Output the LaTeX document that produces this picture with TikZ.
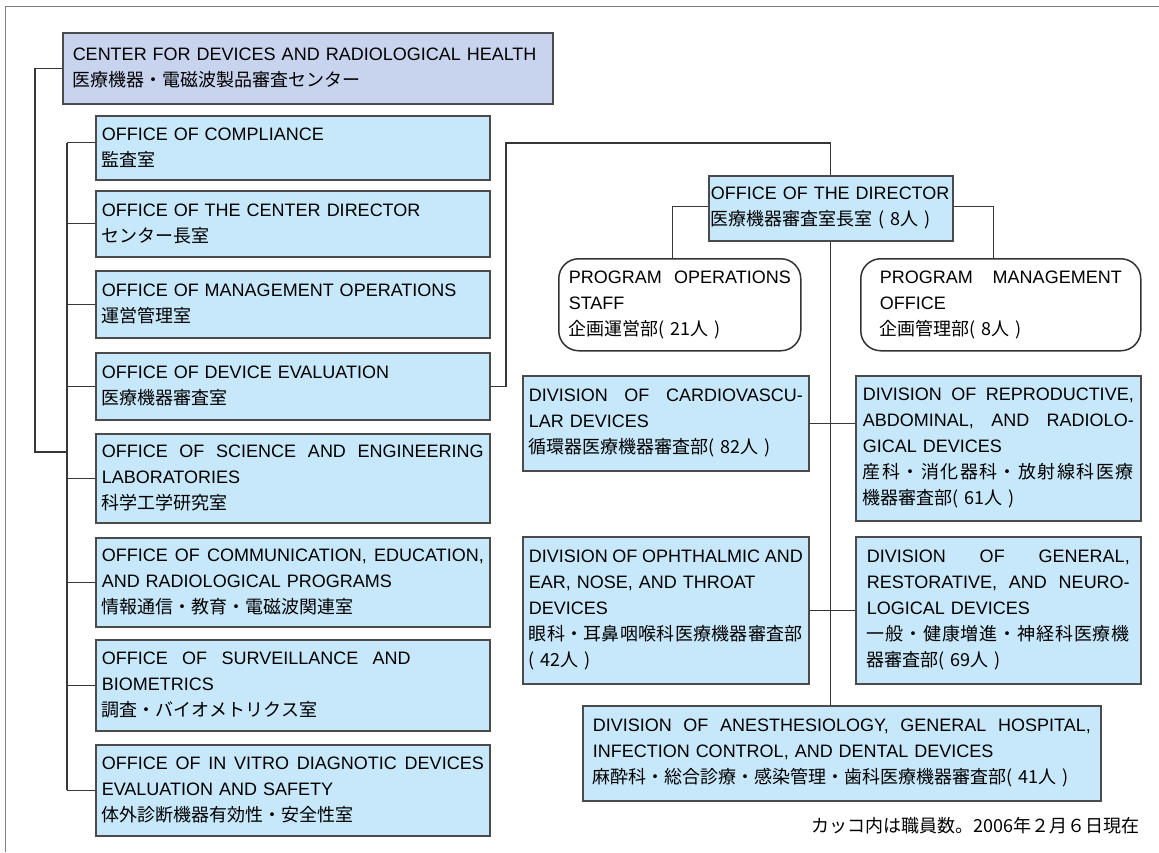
\documentclass[tikz,border=0pt]{standalone}
\usepackage{fontspec}
\setmainfont{Liberation Sans}
\newfontfamily\jp{Noto Sans CJK JP}
\definecolor{officeblue}{RGB}{198,232,250}
\definecolor{cdrhblue}{RGB}{200,212,238}
\definecolor{boxgray}{RGB}{75,75,75}
\definecolor{linegray}{RGB}{55,55,55}
% spread a line of words, or of kana and kanji, to the full width
\newcommand{\jl}[2][\hsize]{\makebox[#1][s]{\spaceskip=\fontdimen2\font plus 1fil minus .15em\relax #2}}
\def\jlsloop#1{\ifx#1\relax\else\hskip0pt plus 1fil#1\expandafter\jlsloop\fi}
\def\jlsfirst#1{#1\jlsloop}
\newcommand{\jls}[1]{\makebox[\hsize][s]{\jlsfirst#1\relax}}

\begin{document}
\begin{tikzpicture}[x=1pt,y=-1pt,
  link/.style={draw=linegray,line width=1.3pt},
  unit/.style={draw=boxgray,line width=1.5pt,fill=officeblue,anchor=north west,
    inner ysep=0pt,align=left,font=\fontsize{18}{26}\selectfont},
  office/.style={unit,text width=382pt,inner xsep=6pt},
  staff/.style={unit,fill=white,draw=black!80,rounded corners=20pt,minimum height=92pt}]

\useasboundingbox (0,0) rectangle (1159,852);
\draw[gray,line width=1pt] (1159,6) -| (5,852);

% center and its offices
\node[unit,fill=cdrhblue,text width=470pt,inner xsep=10pt,minimum height=71pt] (cdrh) at (62,32)
  {CENTER FOR DEVICES AND RADIOLOGICAL HEALTH\\ \jp 医療機器・電磁波製品審査センター};

\node[office,minimum height=64pt] (o1) at (95,115) {OFFICE OF COMPLIANCE\\ \jp 監査室};
\node[office,minimum height=66pt] (o2) at (95,190) {OFFICE OF THE CENTER DIRECTOR\\ \jp センター長室};
\node[office,minimum height=67pt] (o3) at (95,270) {OFFICE OF MANAGEMENT OPERATIONS\\ \jp 運営管理室};
\node[office,minimum height=67pt] (o4) at (95,352) {OFFICE OF DEVICE EVALUATION\\ \jp 医療機器審査室};
\node[office,minimum height=89pt] (o5) at (95,433)
  {\jl{OFFICE OF SCIENCE AND ENGINEERING}\\ LABORATORIES\\ \jp 科学工学研究室};
\node[office,minimum height=89pt] (o6) at (95,537)
  {\jl{OFFICE OF COMMUNICATION, EDUCATION,}\\ AND RADIOLOGICAL PROGRAMS\\ \jp 情報通信・教育・電磁波関連室};
\node[office,minimum height=91pt] (o7) at (95,639)
  {\jl[309pt]{OFFICE OF SURVEILLANCE AND}\\ BIOMETRICS\\ \jp 調査・バイオメトリクス室};
\node[office,minimum height=91pt] (o8) at (95,744)
  {\jl{OFFICE OF IN VITRO DIAGNOTIC DEVICES}\\ EVALUATION AND SAFETY\\ \jp 体外診断機器有効性・安全性室};

\coordinate (split) at (35,452);
\coordinate (trunk) at (67,452);
\draw[link] (cdrh.west) -| (split) -- (trunk);
\draw[link] ([yshift=5pt]o1.west -| trunk) -- (o8.west -| trunk);
\draw[link] ([yshift=5pt]o1.west -| trunk) -- ([yshift=5pt]o1.west);
\foreach \i in {2,...,8}
  \draw[link] (o\i.west -| trunk) -- (o\i.west);

% device evaluation
\node[unit,text width=240pt,inner xsep=2pt,minimum height=65pt] (dir) at (708,175)
  {OFFICE OF THE DIRECTOR\\ \jp 医療機器審査室長室 ( 8人 )};
\node[staff,text width=222pt,inner xsep=10pt] (pos) at (558,258)
  {\jl{PROGRAM OPERATIONS}\\ STAFF\\ \jp 企画運営部( 21人 )};
\node[staff,text width=242pt,inner xsep=19pt] (pmo) at (860,258)
  {\jl{PROGRAM MANAGEMENT}\\ OFFICE\\ \jp 企画管理部( 8人 )};

\node[unit,text width=274pt,inner xsep=6pt,minimum height=95pt] (cardio) at (522,375)
  {\jl{DIVISION OF CARDIOVASCU-}\\ LAR DEVICES\\ \jp 循環器医療機器審査部( 82人 )};
\node[unit,text width=271pt,inner xsep=7pt,minimum height=145pt] (repro) at (855,375)
  {\jl{DIVISION OF REPRODUCTIVE,}\\ \jl{ABDOMINAL, AND RADIOLO-}\\ GICAL DEVICES\\
   \jp\jls{産科・消化器科・放射線科医療}\\ 機器審査部( 61人 )};
\node[unit,text width=274pt,inner xsep=6pt,minimum height=147pt] (oph) at (522,536)
  {\jl{DIVISION OF OPHTHALMIC AND}\\ EAR, NOSE, AND THROAT\\ DEVICES\\
   \jp\jls{眼科・耳鼻咽喉科医療機器審査部}\\ ( 42人 )};
\node[unit,text width=263pt,inner xsep=11pt,minimum height=147pt] (gen) at (855,536)
  {\jl{DIVISION OF GENERAL,}\\ \jl{RESTORATIVE, AND NEURO-}\\ LOGICAL DEVICES\\
   \jp\jls{一般・健康増進・神経科医療機}\\ 器審査部( 69人 )};
\node[unit,text width=498pt,inner xsep=10pt,minimum height=95pt] (anes) at (582,705)
  {\jl{DIVISION OF ANESTHESIOLOGY, GENERAL HOSPITAL,}\\ INFECTION CONTROL, AND DENTAL DEVICES\\
   \jp 麻酔科・総合診療・感染管理・歯科医療機器審査部( 41人 )};

\coordinate (bend) at (506,143);
\draw[link] (o4.east) -| (bend) -| (dir.north);
\draw[link] ([yshift=2pt]dir.west) -| ([xshift=-7pt]pos.north);
\draw[link] ([yshift=2pt]dir.east) -| ([xshift=-7pt]pmo.north);
\draw[link] (dir.south) -- (dir.south |- anes.north);
\draw[link] (cardio.east) -- (cardio.east -| repro.west);
\draw[link] (oph.east) -- (gen.west);

\node[anchor=east,inner sep=0pt,font=\fontsize{18}{26}\selectfont] (note) at (1140,826)
  {\jp カッコ内は職員数。2006年２月６日現在};

\end{tikzpicture}
\end{document}
